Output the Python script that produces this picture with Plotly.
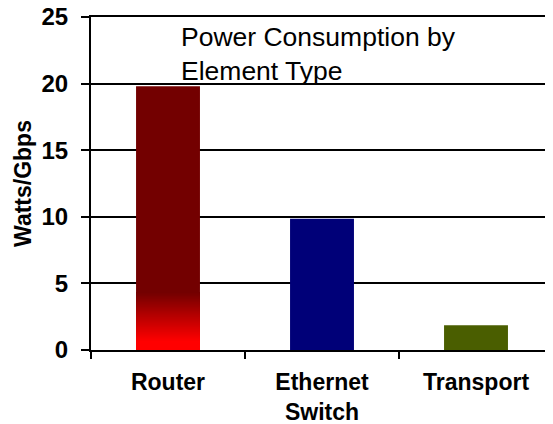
import plotly.graph_objects as go

categories = ["Router", "Ethernet<br>Switch", "Transport"]
values = [19.8, 9.85, 1.85]
bar_colors = ["#730000", "#000078", "#4A5E00"]
y_ticks = [0, 5, 10, 15, 20, 25]
title_text = "Power Consumption by<br>Element Type"
y_title = "Watts/Gbps"

FONT = "Liberation Sans, Arial, sans-serif"

fig = go.Figure()
fig.add_trace(go.Bar(x=categories, y=values, marker=dict(color=bar_colors, line=dict(width=0)),
                     showlegend=False, hoverinfo="skip"))

# vertical gradient at the base of the Router bar (styling only)
N = 40
top_frac, bot_frac = 0.22, 0.035
r_val = values[0]
g_heights, g_colors = [], []
dark = (0x73, 0, 0)
bright = (0xFF, 0, 0)
for k in range(N):
    t = k / (N - 1)
    h = r_val * (top_frac - (top_frac - bot_frac) * t)
    c = tuple(int(round(dark[i] + (bright[i] - dark[i]) * t)) for i in range(3))
    g_heights.append(h)
    g_colors.append("rgb(%d,%d,%d)" % c)
fig.add_trace(go.Bar(x=[categories[0]] * N, y=g_heights,
                     marker=dict(color=g_colors, line=dict(width=0)),
                     showlegend=False, hoverinfo="skip"))

fig.add_annotation(text=title_text, xref="paper", yref="paper", x=0.19, y=0.99,
                   xanchor="left", yanchor="top", align="left", showarrow=False,
                   font=dict(family=FONT, size=26.5, color="black"))

fig.update_layout(
    width=545, height=416,
    margin=dict(l=83, r=0, t=9, b=74),
    paper_bgcolor="white", plot_bgcolor="white",
    barmode="overlay", bargap=0.585,
    font=dict(family=FONT, color="black"),
)
fig.update_xaxes(showline=True, linecolor="black", linewidth=2, mirror=True, automargin=False,
                 ticks="outside", tickson="boundaries", ticklen=7, tickwidth=2, tickcolor="black",
                 tickfont=dict(family=FONT, size=23, weight="bold"), ticklabelstandoff=10,
                 ticklabeloverflow="allow", showgrid=False)
fig.update_yaxes(range=[0, 25], tickvals=y_ticks, showline=True, linecolor="black", linewidth=2,
                 automargin=False, ticklabeloverflow="allow",
                 ticks="outside", ticklen=8, tickwidth=2, tickcolor="black",
                 showgrid=True, gridcolor="black", gridwidth=1.6, zeroline=False,
                 tickfont=dict(family=FONT, size=24, weight="bold"), ticklabelstandoff=8,
                 title=dict(text=y_title, font=dict(family=FONT, size=23, weight="bold"), standoff=3))

fig.write_html("out.html")
